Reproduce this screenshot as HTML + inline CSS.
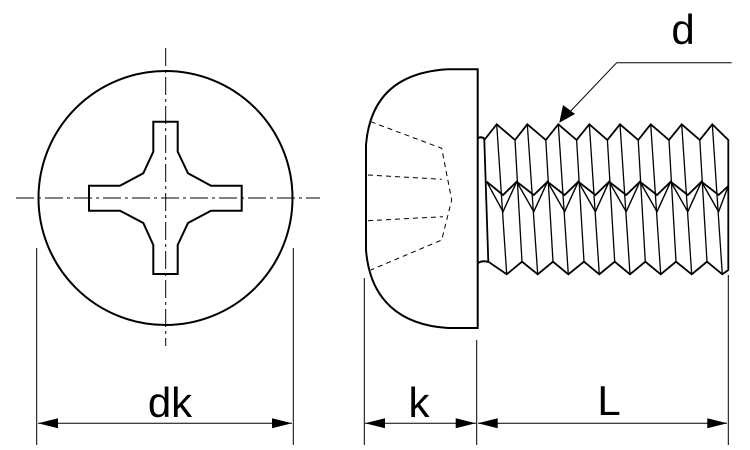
<!DOCTYPE html>
<html><head><style>body{margin:0;background:#fff}svg{display:block}</style></head><body>
<svg width="750" height="450" viewBox="0 0 750 450" xmlns="http://www.w3.org/2000/svg">
<g fill="none" stroke="#000" stroke-width="2" stroke-linejoin="miter">
<circle cx="165.5" cy="198" r="127"/>
<path d="M153.3,121.7 H177.7 V151.7 L188,173.3 L211,185.7 H241.7 V210.7 H211 L188,223 L177.7,245 V274 H153.3 V245 L143.3,223 L120,210.7 H89 V185.7 H120 L143.3,173.3 L153.3,151.7 Z"/>
<path d="M477.7,69.3 H448 C400,72 370,95 366,145 V250 C370,300 400,325 448,328 H477.7 Z"/>
<path d="M477.7,138 Q483,136 485,140 M477.7,263 Q483,260 488,262"/>
</g>
<g stroke="#000" stroke-width="1" fill="none">
<path d="M165.7,48 V346 M16,198 H320" stroke-dasharray="18,4,3,4"/>
<path d="M370.7,121.7 L441.7,148.3 L451.7,200 L441.7,240 L370.7,270 M368,175 L441.7,179.3 M368,220.7 L443,216.7" stroke-dasharray="5,4"/>
<path d="M36.7,248 V445 M293.3,248 V445 M364.3,278 V445 M476.7,340 V445 M728.3,275 V445"/>
<path d="M38,423.3 H292 M365,423.3 H476 M478,423.3 H727"/>
<path d="M616.7,62.7 H731.7 M616.7,62.7 L565,117"/>
</g>
<g fill="#000">
<path d="M38,423.3 l20,-5 v10 Z M292,423.3 l-20,-5 v10 Z M365,423.3 l20,-5 v10 Z M475.7,423.3 l-20,-5 v10 Z M477.7,423.3 l20,-5 v10 Z M727.3,423.3 l-20,-5 v10 Z"/>
<path d="M559.3,122.7 L563,105 L575,114 Z"/>
</g>
<g fill="none" stroke="#000" stroke-width="1.8" id="th">
<path d="M484.3,140 L496.7,124.3 L515,140 L527.3,124.3 L545.8,140 L558.3,124.3 L576.6,140 L589.3,124.3 L607.4,140 L620,124.3 L638.2,140 L650.7,124.3 L669,140 L681.7,124.3 L699.8,140 L712.3,124.3 L728.3,140 V270 L722.3,274.3 L707,261.7 L691.7,274.3 L676,261.7 L660.7,274.3 L645.3,261.7 L630,274.3 L614.7,261.7 L599.3,274.3 L584,261.7 L568.3,274.3 L553,261.7 L537.7,274.3 L522,261.7 L506.7,274.3 L488.3,261.7 Z"/>
<path d="M496.7,124.3 L506.7,274.3 M527.3,124.3 L537.7,274.3 M558.3,124.3 L568.3,274.3 M589.3,124.3 L599.3,274.3 M620,124.3 L630,274.3 M650.7,124.3 L660.7,274.3 M681.7,124.3 L691.7,274.3 M712.3,124.3 L722.3,274.3" stroke-width="1.3"/>
<path d="M515,140 L522,261.7 M545.8,140 L553,261.7 M576.6,140 L584,261.7 M607.4,140 L614.7,261.7 M638.2,140 L645.3,261.7 M669,140 L676,261.7 M699.8,140 L707,261.7" stroke-width="1.3"/>
<path d="M486.7,181.7 L503,195 L516.7,181.7 L533.8,195 L547.5,181.7 L564.6,195 L578.3,181.7 L595.4,195 L609.1,181.7 L626.2,195 L639.9,181.7 L657,195 L670.7,181.7 L687.8,195 L701.5,181.7 L718.6,195 L728.3,186"/>
<path d="M486.7,181.7 L503,211.7 L516.7,181.7 L533.8,211.7 L547.5,181.7 L564.6,211.7 L578.3,181.7 L595.4,211.7 L609.1,181.7 L626.2,211.7 L639.9,181.7 L657,211.7 L670.7,181.7 L687.8,211.7 L701.5,181.7 L718.6,211.7 L728.3,186" stroke-width="1.4"/>
</g>
<g font-family="Liberation Sans, sans-serif" font-size="42" fill="#000" text-anchor="middle">
<text x="170" y="417">dk</text>
<text x="419" y="417">k</text>
<text x="609" y="415">L</text>
<text x="683" y="44">d</text>
</g>
</svg>
</body></html>
